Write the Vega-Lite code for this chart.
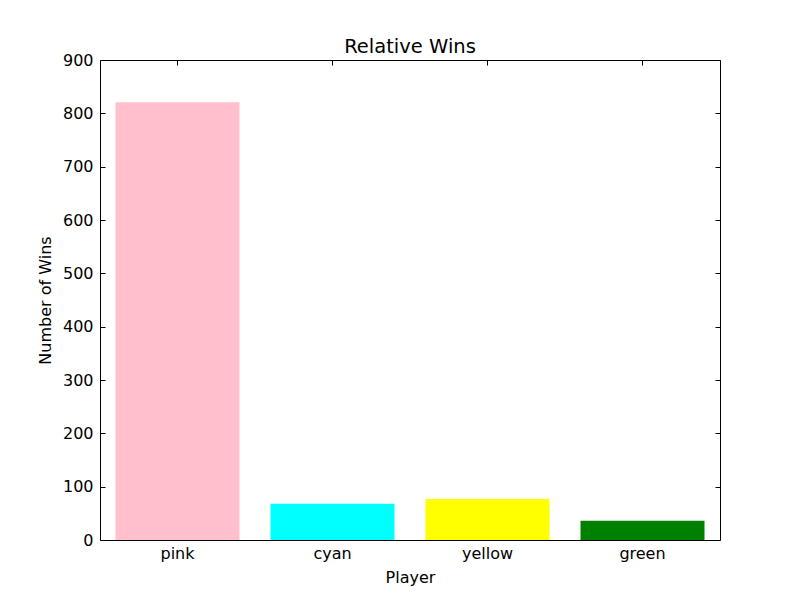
{
  "$schema": "https://vega.github.io/schema/vega-lite/v6.json",
  "width": 620,
  "height": 480,
  "autosize": "none",
  "padding": {"left": 100, "top": 60, "right": 80, "bottom": 60},
  "background": "white",
  "title": {"text": "Relative Wins", "fontSize": 19.5, "fontWeight": "normal", "font": "DejaVu Sans", "color": "black", "offset": -5},
  "config": {
    "view": {"stroke": "black", "strokeWidth": 1},
    "axis": {
      "labelFont": "DejaVu Sans", "labelFontSize": 16, "labelColor": "black",
      "titleFont": "DejaVu Sans", "titleFontSize": 16, "titleFontWeight": "normal", "titleColor": "black",
      "domain": false, "grid": false, "tickColor": "black", "tickSize": -5, "tickWidth": 1
    }
  },
  "data": {
    "values": [
      {"Player": "pink", "Wins": 821},
      {"Player": "cyan", "Wins": 68},
      {"Player": "yellow", "Wins": 77},
      {"Player": "green", "Wins": 36}
    ]
  },
  "layer": [
    {
      "mark": {"type": "bar"},
      "encoding": {
        "x": {"field": "Player", "type": "nominal", "sort": null, "title": "Player",
              "scale": {"paddingInner": 0.2, "paddingOuter": 0.1},
              "axis": {"orient": "bottom", "labelAngle": 0, "labelFontSize": 16, "titleFontSize": 16, "labelPadding": 10, "titlePadding": 8}},
        "y": {"field": "Wins", "type": "quantitative", "title": "Number of Wins",
              "scale": {"domain": [0, 900], "nice": false},
              "axis": {"orient": "left", "values": [0,100,200,300,400,500,600,700,800,900], "labelFontSize": 16, "titleFontSize": 16, "labelPadding": 12, "titlePadding": 9}},
        "color": {"field": "Player", "type": "nominal", "legend": null,
          "scale": {"domain": ["pink", "cyan", "yellow", "green"], "range": ["#ffc0cb", "#00ffff", "#ffff00", "#008000"]}}
      }
    },
    {
      "mark": {"type": "bar", "opacity": 0},
      "encoding": {
        "x": {"field": "Player", "type": "nominal", "sort": null,
              "axis": {"orient": "top", "labels": false, "title": null}},
        "y": {"field": "Wins", "type": "quantitative",
              "axis": {"orient": "right", "labels": false, "title": null, "values": [0,100,200,300,400,500,600,700,800,900]}}
      }
    }
  ],
  "resolve": {"axis": {"x": "independent", "y": "independent"}}
}
